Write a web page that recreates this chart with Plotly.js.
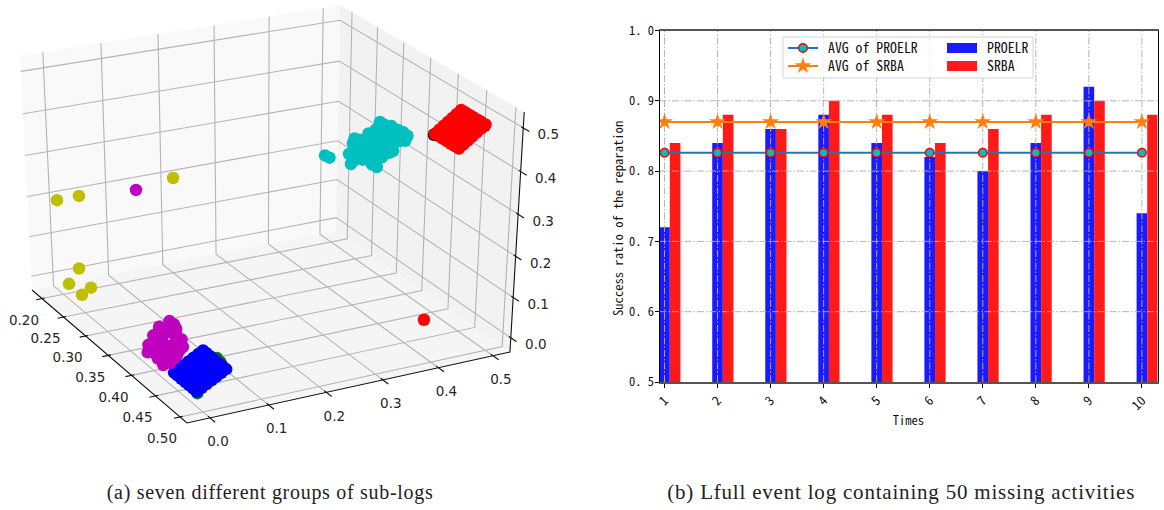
<!DOCTYPE html>
<html><head><meta charset="utf-8">
<script src="https://cdn.plot.ly/plotly-3.0.1.min.js"></script>
<style>html,body{margin:0;padding:0;background:#fff}#c{width:1164px;height:510px}
.annotation[data-index="0"] text{letter-spacing:.7px}
.annotation[data-index="1"] text{letter-spacing:.8px}
.legendtext,.legend2text,.legend3text,.legend4text{transform:translateX(5px)}</style>
</head><body><div id="c"></div>
<script>
// ---- 3D sub-log groups
const blueX=[.441,.448,.456,.464,.472,.480,.487, .441,.448,.456,.464,.472,.480,.487, .441,.448,.456,.464,.472,.480,.487, .441,.448,.456,.464,.472,.480,.487, .441,.448,.456,.464,.472,.480,.487, .441,.448,.456,.464,.472,.480,.487, .441,.448,.456,.464,.472,.480,.487];
const blueY=[.001,.001,.001,.001,.001,.001,.001, .0093,.0093,.0093,.0093,.0093,.0093,.0093, .0177,.0177,.0177,.0177,.0177,.0177,.0177, .026,.026,.026,.026,.026,.026,.026, .0343,.0343,.0343,.0343,.0343,.0343,.0343, .0427,.0427,.0427,.0427,.0427,.0427,.0427, .051,.051,.051,.051,.051,.051,.051];
const blueZ=[.0005,.0005,.0005,.0005,.0005,.0005,.0005, .007,.007,.007,.007,.007,.007,.007, .0135,.0135,.0135,.0135,.0135,.0135,.0135, .02,.02,.02,.02,.02,.02,.02, .0265,.0265,.0265,.0265,.0265,.0265,.0265, .033,.033,.033,.033,.033,.033,.033, .0395,.0395,.0395,.0395,.0395,.0395,.0395];
const greenX=[.4875,.464,.472];
const greenY=[.0015,.055,.054];
const greenZ=[-.003,.0425,.0415];
const redX=[.416,.423,.43,.4375,.445,.452,.459, .416,.423,.43,.4375,.445,.452,.459, .416,.423,.43,.4375,.445,.452,.459, .416,.423,.43,.4375,.445,.452,.459, .416,.423,.43,.4375,.445,.452,.459, .416,.423,.43,.4375,.445,.452,.459, .416,.423,.43,.4375,.445,.452,.459, .4647];
const redY=[.477,.477,.477,.477,.477,.477,.477, .4847,.4847,.4847,.4847,.4847,.4847,.4847, .4923,.4923,.4923,.4923,.4923,.4923,.4923, .5,.5,.5,.5,.5,.5,.5, .5077,.5077,.5077,.5077,.5077,.5077,.5077, .5153,.5153,.5153,.5153,.5153,.5153,.5153, .523,.523,.523,.523,.523,.523,.523, .4206];
const redZ=[.4215,.4215,.4215,.4215,.4215,.4215,.4215, .429,.429,.429,.429,.429,.429,.429, .4365,.4365,.4365,.4365,.4365,.4365,.4365, .444,.444,.444,.444,.444,.444,.444, .4515,.4515,.4515,.4515,.4515,.4515,.4515, .459,.459,.459,.459,.459,.459,.459, .4665,.4665,.4665,.4665,.4665,.4665,.4665, .03];
const blackX=[.4145,.421,.452,.457];
const blackY=[.477,.5,.522,.5235];
const blackZ=[.418,.44,.4655,.4615];
const cyanX=[.303,.314,.351,.359,.355,.349,.371,.3825,.406,.425,.441,.456,.449,.425,.398,.386,.402,.416,.39,.371,.429,.416,.396,.379,
 .367,.3827,.3965,.4103,.4221,.4339,.4418,.4063,.4182,.3985,.4103,.3866,.4359,.4556,.4457,.363,.3768,.3906,.4024,.4122,.43,.361];
const cyanY=[.389,.387,.391,.388,.39,.389,.387,.391,.388,.39,.389,.387,.391,.388,.39,.389,.387,.391,.388,.39,.389,.387,.391,.388,
 .389,.387,.391,.388,.39,.389,.387,.391,.388,.39,.389,.387,.391,.388,.39,.389,.387,.391,.388,.39,.389,.387];
const cyanZ=[.30,.304,.318,.333,.371,.341,.393,.416,.462,.467,.465,.469,.452,.406,.356,.358,.397,.434,.391,.356,.432,.463,.436,.375,
 .373,.4005,.4168,.4405,.4451,.4472,.446,.4122,.4143,.3807,.3828,.3711,.4663,.4698,.4693,.3644,.3505,.3492,.3538,.3919,.4138,.388];
const magentaX=[.276,.404,.394,.38,.408,.369,.365,.374,.39,.413,.423,.429,.419,.394,.38,.408,.384,.40,.374,.388,.415,
 .358,.431,.404,.389,.413,.382,.369,.418,.40,.367,.378,.404,.4286,.4176,.356];
const magentaY=[.0754,.025,.025,.025,.025,.025,.025,.025,.025,.025,.025,.025,.025,.025,.025,.025,.025,.025,.025,.025,.025,
 .025,.025,.025,.025,.025,.025,.025,.025,.025,.025,.025,.025,.025,.025,.025];
const magentaZ=[.2714,.079,.055,.033,.058,-.002,-.021,-.029,-.032,0,.028,.046,.062,.014,.001,.021,-.013,-.006,.013,.027,.041,
 -.02,.0458,.0827,-.0398,.0836,.048,.0142,.0119,.0182,-.0247,-.0349,-.0194,.062,.0774,-.0407];
const yellowX=[.208,.2594,.2858,.2529,.2279,.2789,.2574];
const yellowY=[-.0102,-.0102,.1324,-.0102,-.0102,-.0102,-.0102];
const yellowZ=[.2106,.2645,.294,.0812,.02,.0575,.0197];
const xTicks3=[.2,.25,.3,.35,.4,.45,.5];
const yTicks3=[0,.1,.2,.3,.4,.5];
const zTicks3=[0,.1,.2,.3,.4,.5];
const xTickText3=['0.20','0.25','0.30','0.35','0.40','0.45','0.50'];
const yTickText3=['0.0','0.1','0.2','0.3','0.4','0.5'];
const zTickText3=['0.0','0.1','0.2','0.3','0.4','0.5'];
// ---- bar chart
const times=[1,2,3,4,5,6,7,8,9,10];
const proelr=[.72,.84,.86,.88,.84,.82,.80,.84,.92,.74];
const srba=[.84,.88,.86,.90,.88,.84,.86,.88,.90,.88];
const avgProelr=[.826,.826,.826,.826,.826,.826,.826,.826,.826,.826];
const avgSrba=[.87,.87,.87,.87,.87,.87,.87,.87,.87,.87];
const yTicks=[.5,.6,.7,.8,.9,1.0];
const yTickText=['0. 5','0. 6','0. 7','0. 8','0. 9','1. 0'];

const barW=.2, mono='"Noto Sans Mono CJK SC","Liberation Mono",monospace';
const W=1164,H=510;
const px=(a,b)=>[a/W,b/W], py=(t,b)=>[1-b/H,1-t/H];

// 3D box limits and perspective projection (box corners -> picture pixels)
const xL=[.1764,.514], yL=[-.0387,.5316], zL=[-.0354,.536];
const O=[32,290],A=[139.1,97],B=[320.5,-47.7],C=[-13,-237],dU=-.085,dV=.049,dW=-.051;
function proj(x,y,z){
  const u=(x-xL[0])/(xL[1]-xL[0]),v=(y-yL[0])/(yL[1]-yL[0]),w=(z-zL[0])/(zL[1]-zL[0]);
  const d=1+dU*u+dV*v+dW*w;
  return [(O[0]+A[0]*u+B[0]*v+C[0]*w)/d,(O[1]+A[1]*u+B[1]*v+C[1]*w)/d];
}
function path3(pts){const xs=[],ys=[];pts.forEach(p=>{if(!p){xs.push(null);ys.push(null);return}const q=proj(p[0],p[1],p[2]);xs.push(q[0]);ys.push(q[1])});return{xs,ys}}
function line3(pts,color,width){const r=path3(pts);return{type:'scatter',mode:'lines',x:r.xs,y:r.ys,xaxis:'x2',yaxis:'y2',line:{color,width},showlegend:false,hoverinfo:'skip'}}
function pane3(pts,color){const r=path3(pts);return{type:'scatter',mode:'lines',x:r.xs,y:r.ys,xaxis:'x2',yaxis:'y2',fill:'toself',fillcolor:color,line:{width:0,color},showlegend:false,hoverinfo:'skip'}}
function pts3(X,Y,Z,color){const xs=[],ys=[];X.forEach((v,i)=>{const q=proj(v,Y[i],Z[i]);xs.push(q[0]);ys.push(q[1])});
  return{type:'scatter',mode:'markers',x:xs,y:ys,xaxis:'x2',yaxis:'y2',marker:{size:12.5,color,line:{width:0}},showlegend:false,hoverinfo:'skip'}}
function text3(points,offs,labels){const xs=[],ys=[];points.forEach(p=>{const q=proj(p[0],p[1],p[2]);xs.push(q[0]+offs[0]);ys.push(q[1]+offs[1])});
  return{type:'scatter',mode:'text',x:xs,y:ys,text:labels,xaxis:'x2',yaxis:'y2',textposition:'middle center',textfont:{family:'"DejaVu Sans"',size:13.5,color:'#262626'},showlegend:false,hoverinfo:'skip'}}
const [x0,x1]=xL,[y0,y1]=yL,[z0,z1]=zL;
const grid3=[];
xTicks3.forEach(t=>grid3.push([t,y0,z0],[t,y1,z0],[t,y1,z1],null));
yTicks3.forEach(t=>grid3.push([x1,t,z0],[x0,t,z0],[x0,t,z1],null));
zTicks3.forEach(t=>grid3.push([x0,y0,t],[x0,y1,t],[x1,y1,t],null));
const ticks3=[];
const sy=y1-y0,sx=x1-x0;
xTicks3.forEach(t=>ticks3.push([t,y0+sy*.008,z0],[t,y0-sy*.018,z0],null));
yTicks3.forEach(t=>ticks3.push([x1-sx*.012,t,z0],[x1+sx*.03,t,z0],null));
zTicks3.forEach(t=>ticks3.push([x1-sx*.01,y1,t],[x1+sx*.03,y1,t],null));

const gridX=[],gridXY=[];times.forEach(t=>{gridX.push(t,t,null);gridXY.push(.5,1,null)});
const gridY=[],gridYX=[];[.6,.7,.8,.9].forEach(t=>{gridY.push(t,t,null);gridYX.push(.906,10.294,null)});
const dash='7px,2px,1.5px,2px';
const traces=[
 pane3([[x0,y0,z0],[x0,y1,z0],[x0,y1,z1],[x0,y0,z1],[x0,y0,z0]],'#f9f9f9'),
 pane3([[x0,y1,z0],[x1,y1,z0],[x1,y1,z1],[x0,y1,z1],[x0,y1,z0]],'#f2f2f2'),
 pane3([[x0,y0,z0],[x1,y0,z0],[x1,y1,z0],[x0,y1,z0],[x0,y0,z0]],'#f5f5f5'),
 line3(grid3,'#b4b4b4',1.1),
 line3([[x0,y0,z0],[x1,y0,z0],[x1,y1,z0],[x1,y1,z1]],'#111',1.1),
 line3(ticks3,'#111',1.1),
 text3(xTicks3.map(t=>[t,y0,z0]),[-18,23],xTickText3),
 text3(yTicks3.map(t=>[x1,t,z0]),[8,25],yTickText3),
 text3(zTicks3.map(t=>[x1,y1,t]),[25,8],zTickText3),
 pts3(greenX,greenY,greenZ,'#008000'),pts3(blackX,blackY,blackZ,'#000000'),
 pts3(blueX,blueY,blueZ,'#0000ff'),pts3(redX,redY,redZ,'#ff0000'),
 pts3(cyanX,cyanY,cyanZ,'#00bfbf'),pts3(magentaX,magentaY,magentaZ,'#bf00bf'),pts3(yellowX,yellowY,yellowZ,'#bfbf00'),
 {type:'bar',x:times,y:proelr,width:barW,marker:{color:'#1a1aff',line:{width:0}},showlegend:false,hoverinfo:'skip'},
 {type:'bar',x:times.map(t=>t+barW),y:srba,width:barW,marker:{color:'#ff1a1a',line:{width:0}},showlegend:false,hoverinfo:'skip'},
 {type:'scatter',mode:'lines',x:gridX,y:gridXY,line:{color:'rgba(176,176,176,.95)',width:1,dash},showlegend:false,hoverinfo:'skip',connectgaps:false},
 {type:'scatter',mode:'lines',x:gridYX,y:gridY,line:{color:'rgba(176,176,176,.95)',width:1,dash},showlegend:false,hoverinfo:'skip',connectgaps:false},
 {type:'scatter',mode:'lines+markers',name:'AVG of PROELR',x:times,y:avgProelr,line:{color:'#1f77b4',width:2},
  marker:{symbol:'circle',size:8.5,color:'#00bfbf',line:{color:'#ff0000',width:1.5}},legend:'legend'},
 {type:'scatter',mode:'lines+markers',name:'AVG of SRBA',x:times,y:avgSrba,line:{color:'#ff7f0e',width:2},
  marker:{symbol:'star',size:12.5,color:'#ff7f0e',line:{width:0}},legend:'legend2'},
 {type:'scatter',mode:'lines',name:'PROELR',x:[null],y:[null],line:{color:'#1a1aff',width:10},legend:'legend3'},
 {type:'scatter',mode:'lines',name:'SRBA',x:[null],y:[null],line:{color:'#ff1a1a',width:10},legend:'legend4'}
];
const legendBase=(x,yc)=>({x:x/W,y:1-yc/H,xanchor:'left',yanchor:'middle',bgcolor:'rgba(0,0,0,0)',borderwidth:0,font:{family:mono,size:13.8,color:'#111'},itemwidth:30,tracegroupgap:0});
const layout={width:W,height:H,margin:{l:0,r:0,t:0,b:0},paper_bgcolor:'#fff',plot_bgcolor:'rgba(0,0,0,0)',showlegend:true,barmode:'overlay',
 xaxis2:{domain:px(0,570),range:[0,570],visible:false,anchor:'y2'},
 yaxis2:{domain:[0,1],range:[510,0],visible:false,anchor:'x2'},
 xaxis:{domain:px(659.5,1157.5),range:[.906,10.294],tickvals:times,tickangle:-45,ticks:'outside',ticklen:4,tickcolor:'#000',showgrid:false,zeroline:false,
   showline:true,mirror:true,linecolor:'#555',linewidth:2,tickfont:{family:mono,size:13,color:'#111'},
   title:{text:'Times',font:{family:mono,size:12.5,color:'#111'},standoff:4},automargin:false,anchor:'y'},
 yaxis:{domain:py(30.5,382),range:[.5,1],tickvals:yTicks,ticktext:yTickText,ticks:'outside',ticklen:4,tickcolor:'#000',showgrid:false,zeroline:false,
   showline:true,mirror:true,linecolor:'#000',linewidth:1,tickfont:{family:mono,size:12.5,color:'#111'},ticklabelstandoff:-2,automargin:false,anchor:'x'},
 legend:legendBase(783,48),legend2:legendBase(783,66),legend3:legendBase(942,48),legend4:legendBase(942,66),
 shapes:[{type:'rect',xref:'paper',yref:'paper',x0:783/W,x1:1033/W,y0:1-78/H,y1:1-37/H,fillcolor:'rgba(255,255,255,.8)',line:{color:'#d5d5d5',width:1},layer:'above'}],
 annotations:[
  {xref:'paper',yref:'paper',x:269.5/W,y:1-492/H,xanchor:'center',yanchor:'middle',showarrow:false,text:'(a) seven different groups of sub-logs',font:{family:'"Liberation Serif", serif',size:20,color:'#222'}},
  {xref:'paper',yref:'paper',x:900.5/W,y:1-492/H,xanchor:'center',yanchor:'middle',showarrow:false,text:'(b) Lfull event log containing 50 missing activities',font:{family:'"Liberation Serif", serif',size:21,color:'#222'}},
  {xref:'paper',yref:'paper',x:617/W,y:1-219/H,xanchor:'center',yanchor:'middle',textangle:-90,showarrow:false,text:'Success ratio of the reparation',font:{family:mono,size:12.6,color:'#111'}}
 ]};
Plotly.newPlot('c',traces,layout,{displayModeBar:false,staticPlot:true});
</script></body></html>
